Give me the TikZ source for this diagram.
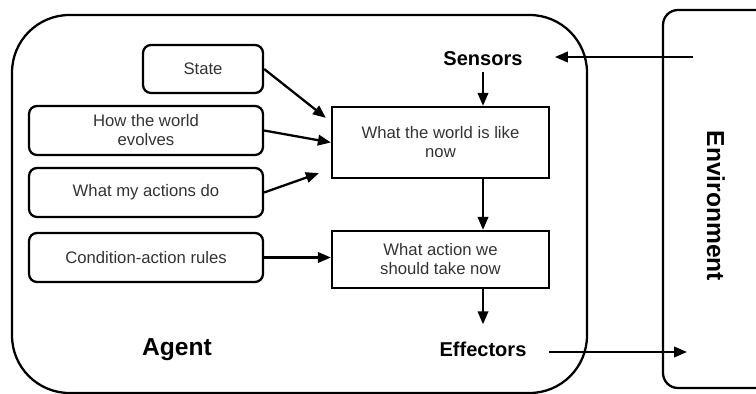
\documentclass[tikz,border=0pt]{standalone}
\usepackage{fontspec}
\setmainfont{Liberation Sans}
\usetikzlibrary{positioning, arrows.meta, calc}

\begin{document}
\begin{tikzpicture}[x=0.02cm, y=-0.02cm,
	box/.style={draw, line width=1.3pt, align=center, text=black!80, font=\fontsize{9.5}{10.8}\selectfont, inner sep=0pt},
	rbox/.style={box, rounded corners=0.16cm, minimum width=4.68cm, minimum height=0.98cm},
	sbox/.style={box, minimum width=4.34cm},
	lbl/.style={font=\bfseries\fontsize{11.4}{13}\selectfont, inner sep=0pt},
	big/.style={font=\bfseries\fontsize{14}{16}\selectfont, inner sep=0pt},
	arr/.style={line width=1.3pt, -{Triangle[length=0.26cm, width=0.21cm]}}]
	\useasboundingbox (0, 0) rectangle (756, 394);
	\draw[line width=1.3pt, rounded corners=1.15cm] (12, 15) rectangle (587, 393);
	\draw[line width=1.3pt, rounded corners=0.3cm] (663, 10) rectangle (800, 388);

	\node[rbox, minimum width=2.4cm, minimum height=0.96cm] (state) at (203, 69) {State};
	\node[rbox] (evolve) at (146, 130.5) {How the world\\evolves};
	\node[rbox] (actdo) at (146, 192.5) {What my actions do};
	\node[rbox] (rules) at (146, 257.5) {Condition-action rules};
	\node[sbox, minimum height=1.42cm] (world) at (440.5, 142.5) {What the world is like\\now};
	\node[sbox, minimum height=1.14cm] (action) at (440.5, 259.5) {What action we\\should take now};
	\node[lbl] (sensors) at (483, 59) {Sensors};
	\node[lbl] (effectors) at (483, 349) {Effectors};
	\node[big] (agent) at (177, 350) {Agent};
	\node[big, rotate=-90] (env) at (716, 206) {Environment};
	\coordinate (envin) at (693, 57);
	\coordinate (envout) at (687, 352);

	\draw[arr, shorten >=0.64cm] (envin) -- (envin -| sensors.east);
	\draw[arr, shorten <=0.12cm] (sensors) -- (sensors |- world.north);
	\draw[arr] (world.south -| sensors) -- (action.north -| sensors);
	\draw[arr, shorten >=0.34cm] (action.south -| effectors) -- (effectors);
	\draw[arr, shorten <=0.45cm] (effectors.east |- envout) -- (envout);
	\draw[arr] (state.east) -- ([xshift=-0.1cm, yshift=-0.24cm]world.north west);
	\draw[arr] (evolve.east) -- (world.west);
	\draw[arr] (actdo.east) -- ([xshift=-0.24cm, yshift=0.12cm]world.south west);
	\draw[arr] (rules.east) -- (rules.east -| action.west);
\end{tikzpicture}
\end{document}
